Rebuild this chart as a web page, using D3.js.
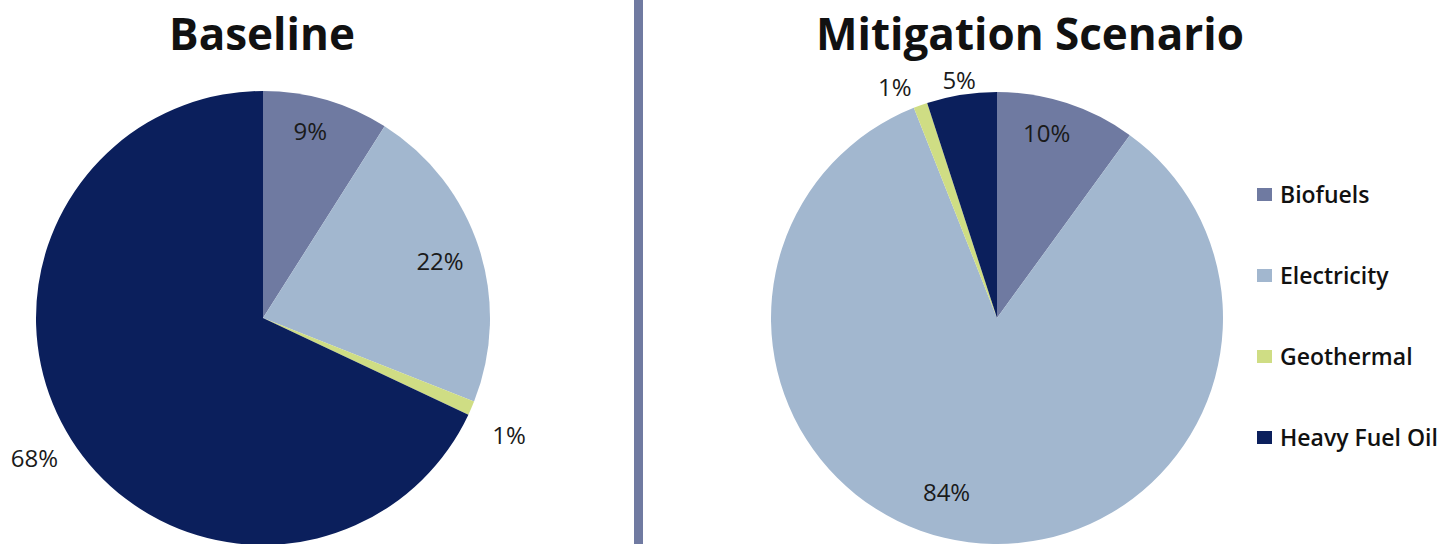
<!DOCTYPE html>
<html>
<head>
<meta charset="utf-8">
<script src="https://cdn.jsdelivr.net/npm/d3@7"></script>
<style>
  html, body { margin: 0; padding: 0; background: #ffffff; }
  svg { display: block; }
</style>
</head>
<body>
<svg id="chart" width="1442" height="544"></svg>
<script>
// Energy mix by fuel, shares in percent
const categories = ["Biofuels", "Electricity", "Geothermal", "Heavy Fuel Oil"];
const baselineValues = [9, 22, 1, 68];
const mitigationValues = [10, 84, 1, 5];
const chartTitles = ["Baseline", "Mitigation Scenario"];

// Presentation
const colors = ["#6f7aa1", "#a2b7cf", "#cfdd84", "#0b1f5c"];
const fontFamily = "'Open Sans', Lato, sans-serif";
const W = 1442, H = 544;

const svg = d3.select("#chart");

const color = d3.scaleOrdinal().domain(categories).range(colors);

// label placement per chart: radial factor and small angular nudge (degrees)
const panels = [
  { title: chartTitles[0], values: baselineValues, cx: 263, cy: 318, r: 227, titleX: 262,
    labelR: [0.85, 0.82, 1.2, 1.18], labelNudge: [-2, 0, 2, 1] },
  { title: chartTitles[1], values: mitigationValues, cx: 997, cy: 318, r: 226, titleX: 1030,
    labelR: [0.85, 0.80, 1.12, 1.07], labelNudge: [-3, 9, -4, 0] }
];

const pie = d3.pie().sort(null).value(d => d.value)
  .startAngle(0).endAngle(2 * Math.PI);

panels.forEach(p => {
  const data = categories.map((c, i) => ({ key: c, value: p.values[i] }));
  const arcs = pie(data);
  const arc = d3.arc().innerRadius(0).outerRadius(p.r);

  const g = svg.append("g").attr("transform", `translate(${p.cx},${p.cy})`);
  g.selectAll("path.slice").data(arcs).enter().append("path")
    .attr("class", "slice")
    .attr("d", arc)
    .attr("fill", d => color(d.data.key));

  const labelPos = (d, i) => {
    const a = (d.startAngle + d.endAngle) / 2 + p.labelNudge[i] * Math.PI / 180;
    return [Math.sin(a) * p.r * p.labelR[i], -Math.cos(a) * p.r * p.labelR[i]];
  };

  g.selectAll("text.pct").data(arcs).enter().append("text")
    .attr("class", "pct")
    .attr("x", (d, i) => labelPos(d, i)[0])
    .attr("y", (d, i) => labelPos(d, i)[1])
    .attr("text-anchor", "middle")
    .attr("dominant-baseline", "central")
    .attr("font-family", fontFamily)
    .attr("font-size", 24)
    .attr("fill", "#1a1a1a")
    .text(d => d.data.value + "%");

  svg.append("text")
    .attr("x", p.titleX)
    .attr("y", 50)
    .attr("text-anchor", "middle")
    .attr("font-family", fontFamily)
    .attr("font-weight", "bold")
    .attr("font-size", 44)
    .attr("fill", "#111")
    .text(p.title);
});

// divider between the two panels
svg.append("rect")
  .attr("x", 634).attr("y", 0)
  .attr("width", 9).attr("height", H)
  .attr("fill", "#707aa1");

// legend
const legend = svg.append("g").attr("transform", "translate(1257,194)");
const legendStep = 81;
const item = legend.selectAll("g.item").data(categories).enter().append("g")
  .attr("class", "item")
  .attr("transform", (d, i) => `translate(0,${i * legendStep})`);
item.append("rect")
  .attr("x", 0).attr("y", -6)
  .attr("width", 15).attr("height", 13)
  .attr("fill", d => color(d));
item.append("text")
  .attr("x", 23).attr("y", 0)
  .attr("dominant-baseline", "central")
  .attr("font-family", fontFamily)
  .attr("font-size", 23)
  .attr("font-weight", 600)
  .attr("fill", "#111")
  .text(d => d);
</script>
</body>
</html>
